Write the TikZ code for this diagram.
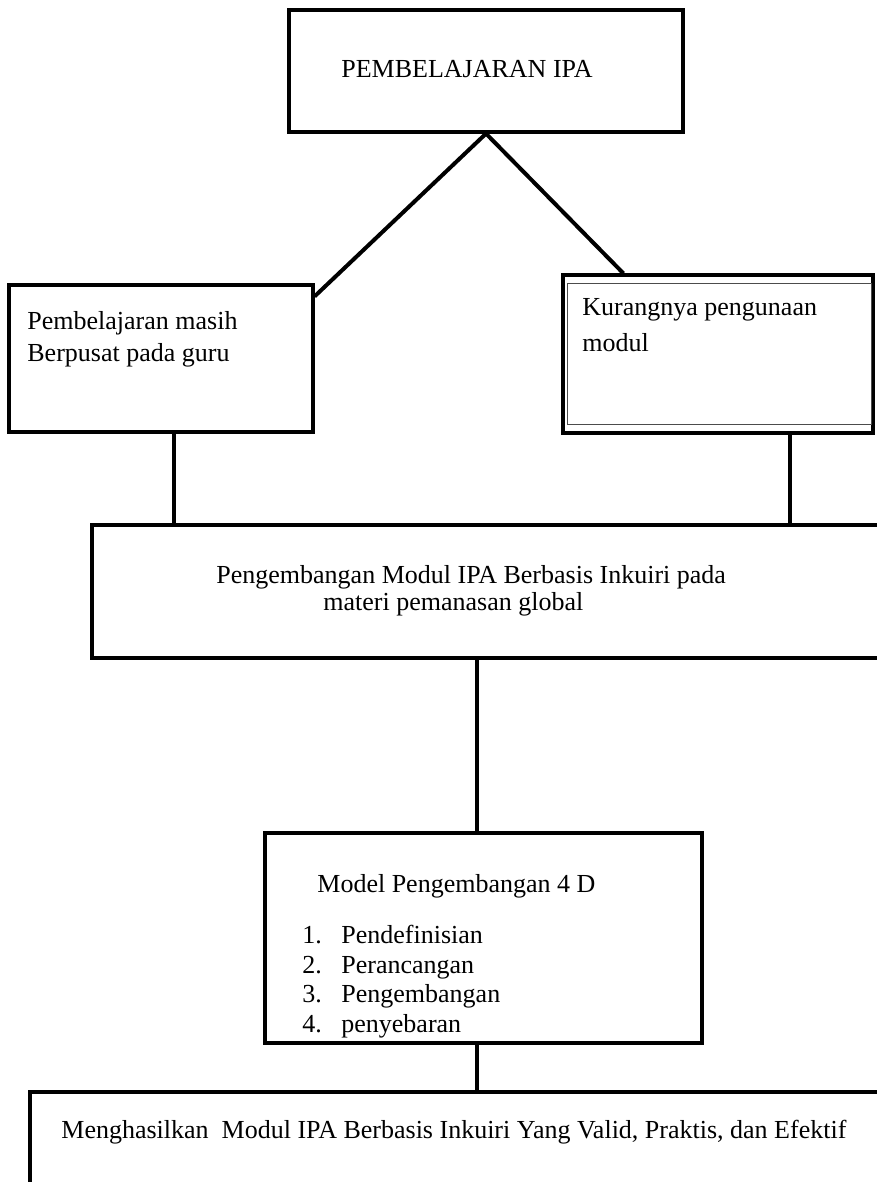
\documentclass[tikz,border=0pt]{standalone}
\usepackage{fontspec}
\setmainfont{Liberation Serif}
\usetikzlibrary{calc}

\begin{document}
\begin{tikzpicture}[x=0.5pt, y=-0.5pt]
                \tikzstyle{box}=[draw=black, line width=1.6pt, rectangle, inner sep=0pt]
                \tikzstyle{edge}=[black, line width=2pt]
                \tikzstyle{txt}=[anchor=base west, inner sep=0pt, font=\fontsize{13}{16}\selectfont]

                \useasboundingbox (0,0) rectangle (877,1182);
                \clip (0,0) rectangle (877,1182);

                \node[box, minimum width=197pt, minimum height=61pt] (ipa) at (486,71) {};
                \node[box, minimum width=152pt, minimum height=73.5pt] (guru) at (161,358.5) {};
                \node[box, minimum width=155pt, minimum height=79pt] (modul) at (718,354) {};
                \node[box, line width=2pt, minimum width=414pt, minimum height=66.5pt] (inkuiri) at (506,591.5) {};
                \node[box, minimum width=218.5pt, minimum height=105pt] (model) at (483.5,938) {};
                \node[box, line width=2pt, minimum width=445pt, minimum height=79pt] (hasil) at (475,1171) {};

                % inner line of the double box
                \draw[gray!60!black, line width=0.6pt] ($(modul.north west)+(6,10)$) rectangle ($(modul.south east)+(-3,-10)$);

                \node[txt] (ipatxt) at (341,78) {PEMBELAJARAN IPA};
                \node[txt] (gurua) at (27,329) {Pembelajaran masih};
                \node[txt] (gurub) at (27,361) {Berpusat pada guru};
                \node[txt] (modula) at (582,315) {Kurangnya pengunaan};
                \node[txt] (modulb) at (582,351) {modul};
                \node[txt] (inkuiria) at (216,583) {Pengembangan Modul IPA Berbasis Inkuiri pada};
                \node[txt] (inkuirib) at (323,610) {materi pemanasan global};
                \node[txt] (modeltxt) at (317,892) {Model Pengembangan 4 D};
                \node[txt] (langkaha) at (302,943) {\makebox[19.5pt][l]{1.}Pendefinisian};
                \node[txt] (langkahb) at (302,973) {\makebox[19.5pt][l]{2.}Perancangan};
                \node[txt] (langkahc) at (302,1002) {\makebox[19.5pt][l]{3.}Pengembangan};
                \node[txt] (langkahd) at (302,1032) {\makebox[19.5pt][l]{4.}penyebaran};
                \node[txt] (hasiltxt) at (61,1138) {Menghasilkan\ \ Modul IPA Berbasis Inkuiri Yang Valid, Praktis, dan Efektif};

                \coordinate (g1) at ($(guru.south)+(13,0)$);
                \coordinate (m1) at ($(modul.south)+(72,0)$);
                \coordinate (k1) at ($(model.north)+(-7,0)$);

                \draw[edge] (ipa.south) -- ($(guru.north east)+(0,13)$);
                \draw[edge] (ipa.south) -- ($(modul.north west)+(62,0)$);
                \draw[edge] (g1) -- (g1 |- inkuiri.north);
                \draw[edge] (m1) -- (m1 |- inkuiri.north);
                \draw[edge] (k1 |- inkuiri.south) -- (k1);
                \draw[edge] (k1 |- model.south) -- (k1 |- hasil.north);
            \end{tikzpicture}
\end{document}
